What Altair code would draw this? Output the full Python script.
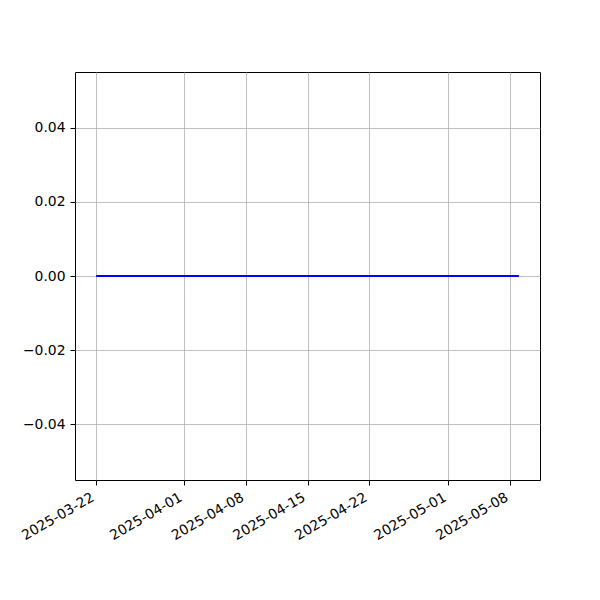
import altair as alt
import pandas as pd

dates = [
    "2025-03-22", "2025-03-23", "2025-03-24", "2025-03-25", "2025-03-26", "2025-03-27", "2025-03-28",
    "2025-03-29", "2025-03-30", "2025-03-31", "2025-04-01", "2025-04-02", "2025-04-03", "2025-04-04",
    "2025-04-05", "2025-04-06", "2025-04-07", "2025-04-08", "2025-04-09", "2025-04-10", "2025-04-11",
    "2025-04-12", "2025-04-13", "2025-04-14", "2025-04-15", "2025-04-16", "2025-04-17", "2025-04-18",
    "2025-04-19", "2025-04-20", "2025-04-21", "2025-04-22", "2025-04-23", "2025-04-24", "2025-04-25",
    "2025-04-26", "2025-04-27", "2025-04-28", "2025-04-29", "2025-04-30", "2025-05-01", "2025-05-02",
    "2025-05-03", "2025-05-04", "2025-05-05", "2025-05-06", "2025-05-07", "2025-05-08", "2025-05-09",
]
values = [0.0] * len(dates)

tick_dates = [(2025, 3, 22), (2025, 4, 1), (2025, 4, 8), (2025, 4, 15),
              (2025, 4, 22), (2025, 5, 1), (2025, 5, 8)]
y_ticks = [-0.04, -0.02, 0.0, 0.02, 0.04]

df = pd.DataFrame({"date": dates, "value": values})

x_values = [alt.DateTime(year=y, month=m, date=d, utc=True) for (y, m, d) in tick_dates]
x_domain = [alt.DateTime(year=2025, month=3, date=19, hours=14, minutes=24, utc=True),
            alt.DateTime(year=2025, month=5, date=11, hours=9, minutes=36, utc=True)]

chart = alt.Chart(df).mark_line(color="#0000ff", strokeWidth=2).encode(
    x=alt.X("date:T",
            scale=alt.Scale(type="utc", domain=x_domain),
            axis=alt.Axis(values=x_values, title=None,
                          labelExpr="utcFormat(datum.value, '%Y-%m-%d')",
                          labelAngle=-30, labelAlign="right", labelBaseline="top",
                          labelPadding=5, labelOffset=-7)),
    y=alt.Y("value:Q",
            scale=alt.Scale(domain=[-0.055, 0.055], nice=False, zero=False),
            axis=alt.Axis(values=y_ticks, title=None,
                          labelExpr="replace(format(datum.value, '.2f'), '-', '\u2212')",
                          labelPadding=5)),
).properties(
    width=465, height=408,
    autosize=alt.AutoSizeParams(type="none"),
    padding={"left": 67, "top": 64, "right": 52, "bottom": 112},
).configure_view(
    stroke="black", strokeWidth=1
).configure_axis(
    grid=True, gridColor="#b0b0b0", gridWidth=0.8,
    domain=False, tickColor="black", tickSize=5, tickWidth=1,
    labelColor="black", labelFont="DejaVu Sans", labelFontSize=13.9,
    labelOverlap=False, labelFlush=False,
)

chart.save("out.html", embed_options={"renderer": "svg", "actions": False})
